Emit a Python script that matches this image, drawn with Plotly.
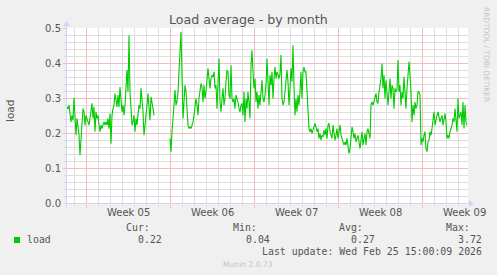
import pandas as pd
import plotly.graph_objects as go

# ---------------- data ----------------
TITLE = "Load average - by month"
Y_LABEL = "load"
SERIES_NAME = "load"
START = pd.Timestamp("2026-01-23 09:00")
END = pd.Timestamp("2026-02-25 19:00")
SAMPLE_STEP = "2h"
SEG1_START = pd.Timestamp("2026-01-23 09:00")
SEG2_START = pd.Timestamp("2026-01-31 23:00")

SEG1 = [
    0.276, 0.270, 0.281, 0.255, 0.233, 0.252, 0.238, 0.302, 0.243, 0.195, 0.243, 0.224,
    0.195, 0.138, 0.195, 0.243, 0.271, 0.262, 0.224, 0.252, 0.240, 0.233, 0.224,
    0.243, 0.271, 0.286, 0.243, 0.276, 0.205, 0.262, 0.243, 0.252, 0.224,
    0.205, 0.224, 0.214, 0.224, 0.233, 0.224, 0.233, 0.224, 0.243, 0.214,
    0.257, 0.171, 0.252, 0.271, 0.281, 0.314, 0.290, 0.276, 0.310, 0.276,
    0.333, 0.281, 0.262, 0.281, 0.252, 0.281, 0.333, 0.381, 0.319, 0.481,
    0.319, 0.243, 0.224, 0.233, 0.252, 0.205, 0.243, 0.224, 0.262, 0.281,
    0.271, 0.329, 0.300, 0.262, 0.195, 0.233, 0.243, 0.281, 0.314, 0.262,
    0.238, 0.305, 0.281, 0.271, 0.252,
]

SEG2 = [
    0.186, 0.148, 0.205, 0.262, 0.281, 0.324, 0.281, 0.290, 0.319, 0.376,
    0.433, 0.490, 0.367, 0.243, 0.290, 0.338, 0.319, 0.271, 0.224, 0.214,
    0.219, 0.214, 0.224, 0.233, 0.252, 0.271, 0.300, 0.281, 0.252, 0.300,
    0.329, 0.343, 0.333, 0.290, 0.338, 0.300, 0.319, 0.367, 0.386, 0.357,
    0.329, 0.357, 0.367, 0.362, 0.376, 0.329, 0.338, 0.271, 0.348, 0.414,
    0.290, 0.262, 0.300, 0.329, 0.281, 0.300, 0.348, 0.381, 0.376, 0.310,
    0.300, 0.395, 0.300, 0.290, 0.300, 0.271, 0.310, 0.300, 0.290, 0.271,
    0.262, 0.281, 0.286, 0.252, 0.319, 0.233, 0.300, 0.271, 0.319, 0.290,
    0.243, 0.395, 0.438, 0.376, 0.329, 0.357, 0.290, 0.319, 0.271, 0.310,
    0.281, 0.319, 0.352, 0.300, 0.290,
    0.310, 0.338, 0.414, 0.310, 0.281, 0.367, 0.338, 0.376, 0.300, 0.357,
    0.390, 0.357, 0.376, 0.367, 0.357, 0.371, 0.424, 0.300, 0.281, 0.290,
    0.319, 0.367, 0.381, 0.348, 0.281, 0.329, 0.386, 0.348, 0.452, 0.338,
    0.252, 0.300, 0.262, 0.310, 0.281, 0.319, 0.376, 0.300, 0.376, 0.390,
    0.376, 0.376, 0.329, 0.271, 0.214, 0.205, 0.214, 0.200, 0.210, 0.214,
    0.229, 0.219, 0.205, 0.214, 0.186, 0.200, 0.181, 0.195, 0.190, 0.210,
    0.195, 0.214, 0.186, 0.224, 0.229, 0.205, 0.190, 0.186, 0.224, 0.205,
    0.181, 0.195, 0.214, 0.186, 0.205, 0.224, 0.195, 0.186, 0.176, 0.167,
    0.176, 0.167, 0.186, 0.167, 0.143, 0.157, 0.195, 0.219, 0.205, 0.186,
    0.200, 0.176, 0.186, 0.195, 0.176, 0.157, 0.181, 0.205, 0.167, 0.186,
    0.200,
    0.167, 0.205, 0.214, 0.195, 0.186, 0.281, 0.290, 0.281, 0.295, 0.310,
    0.314, 0.290, 0.286, 0.319, 0.333, 0.357, 0.400, 0.329, 0.367, 0.300,
    0.352, 0.319, 0.281, 0.319, 0.357, 0.300, 0.338, 0.329, 0.271, 0.329,
    0.319, 0.324, 0.410, 0.319, 0.338, 0.281, 0.319, 0.300, 0.362, 0.319,
    0.271, 0.329, 0.367, 0.405, 0.367, 0.319, 0.233, 0.281, 0.252, 0.290,
    0.271, 0.281, 0.319, 0.319, 0.310, 0.167, 0.186, 0.176, 0.195, 0.205,
    0.157, 0.148, 0.176, 0.181, 0.205, 0.195, 0.214, 0.233, 0.262, 0.224,
    0.243, 0.252, 0.262, 0.248, 0.233, 0.243, 0.252, 0.224, 0.243, 0.257,
    0.233, 0.186, 0.195, 0.186, 0.205, 0.214, 0.224, 0.243, 0.233, 0.271,
    0.224, 0.205, 0.300, 0.243, 0.252, 0.262, 0.224, 0.290, 0.214, 0.281,
    0.233, 0.224,
]

WEEK_STARTS = ["2026-01-25", "2026-02-01", "2026-02-08", "2026-02-15", "2026-02-22"]
WEEK_LABELS = ["Week 05", "Week 06", "Week 07", "Week 08", "Week 09"]
Y_TICKS = [0.0, 0.1, 0.2, 0.3, 0.4, 0.5]
Y_TICK_LABELS = ["0.0", "0.1", "0.2", "0.3", "0.4", "0.5"]
Y_MINOR_STEP = 0.02
STAT_NAMES = ["Cur:", "Min:", "Avg:", "Max:"]
STAT_VALUES = ["0.22", "0.04", "0.27", "3.72"]
LAST_UPDATE = "Last update: Wed Feb 25 15:00:09 2026"
WATERMARK = "RRDTOOL / TOBI OETIKER"
FOOTER = "Munin 2.0.73"

# ---------------- layout ----------------
W, H = 497, 275
X0, XS = 67, 401          # plot area left edge / width in px
Y0, YS = 204, 176         # plot area bottom edge / height in px
PX_PER_UNIT = 350.0       # vertical px per load unit
ZERO_ROW = 203.5          # pixel centre of value 0

LINE_COLOR = "#00CC00"
MGRID = "#F2BDBD"
GRID = "#DEDEDE"
AXIS = "#CFD6F8"
FONT = "#555555"
SANS = "DejaVu Sans"
MONO = "DejaVu Sans Mono"


def px(x):
    return (x - X0) / XS


def py(y):
    return (Y0 - y) / YS


y_lo = (ZERO_ROW - Y0) / PX_PER_UNIT
y_hi = (ZERO_ROW - (Y0 - YS)) / PX_PER_UNIT

t1 = list(pd.date_range(SEG1_START, periods=len(SEG1), freq=SAMPLE_STEP))
t2 = list(pd.date_range(SEG2_START, periods=len(SEG2), freq=SAMPLE_STEP))
times = t1 + [t1[-1] + pd.Timedelta(SAMPLE_STEP)] + t2
loads = SEG1 + [None] + SEG2

fig = go.Figure(
    go.Scatter(
        x=times, y=loads, mode="lines", name=SERIES_NAME,
        line=dict(color=LINE_COLOR, width=1.1), connectgaps=False,
        hoverinfo="skip",
    )
)

fig.update_layout(
    width=W, height=H,
    margin=dict(l=X0, r=W - X0 - XS, t=Y0 - YS, b=H - Y0, pad=0),
    paper_bgcolor="#F0F0F0", plot_bgcolor="#FFFFFF",
    showlegend=False,
    font=dict(family=SANS, color=FONT, size=10),
)

fig.update_xaxes(
    type="date", range=[START, END],
    tickmode="array", tickvals=WEEK_STARTS, showticklabels=False,
    showgrid=True, gridcolor=MGRID, gridwidth=1,
    ticks="outside", ticklen=3, tickcolor=MGRID, tickwidth=1,
    showline=False, zeroline=False,
    minor=dict(
        tickmode="linear", tick0=WEEK_STARTS[0], dtick=86400000,
        showgrid=True, gridcolor=GRID, gridwidth=1,
        ticks="outside", ticklen=2, tickcolor=GRID,
    ),
)

fig.update_yaxes(
    range=[y_lo, y_hi],
    tickmode="array", tickvals=Y_TICKS, ticktext=Y_TICK_LABELS,
    tickfont=dict(family=SANS, size=10, color=FONT),
    showgrid=True, gridcolor=MGRID, gridwidth=1,
    ticks="outside", ticklen=3, tickcolor=MGRID, tickwidth=1,
    showline=False, zeroline=False,
    minor=dict(
        tickmode="linear", tick0=0, dtick=Y_MINOR_STEP,
        showgrid=True, gridcolor=GRID, gridwidth=1,
        ticks="outside", ticklen=2, tickcolor=GRID,
    ),
)

shapes = [
    # axes
    dict(type="line", xref="paper", yref="paper", x0=px(63), x1=px(470), y0=py(203.5), y1=py(203.5),
         line=dict(color=AXIS, width=1)),
    dict(type="line", xref="paper", yref="paper", x0=px(66.5), x1=px(66.5), y0=py(207), y1=py(24),
         line=dict(color=AXIS, width=1)),
    # arrows
    dict(type="path", xref="paper", yref="paper",
         path=f"M {px(469)},{py(200)} L {px(469)},{py(207)} L {px(474)},{py(203.5)} Z",
         fillcolor=AXIS, line=dict(width=0)),
    dict(type="path", xref="paper", yref="paper",
         path=f"M {px(63)},{py(26)} L {px(70)},{py(26)} L {px(66.5)},{py(21)} Z",
         fillcolor=AXIS, line=dict(width=0)),
    # legend swatch
    dict(type="rect", xref="paper", yref="paper", x0=px(14), x1=px(20), y0=py(243), y1=py(237),
         fillcolor=LINE_COLOR, line=dict(width=0)),
]
fig.update_layout(shapes=shapes)


def ann(text, x, y, size, family=SANS, color=FONT, xanchor="center", angle=0):
    return dict(text=text, x=px(x), y=py(y), xref="paper", yref="paper", showarrow=False,
                font=dict(family=family, size=size, color=color), xanchor=xanchor,
                yanchor="middle", textangle=angle, borderpad=0, borderwidth=0)


annotations = [
    ann(TITLE, 248, 19, 12.6),
    ann(Y_LABEL, 10, 111, 10.5, angle=-90),
    ann(WATERMARK, 487, 54, 7.4, color="#C4C4C4", angle=90),
    ann(FOOTER, 248, 264.5, 7.6, color="#C4C4C4"),
    ann(SERIES_NAME, 27, 239.5, 9.9, family=MONO, xanchor="left"),
    ann(LAST_UPDATE, 482, 251.5, 9.9, family=MONO, xanchor="right"),
]

HEAD_RIGHT = [150, 257, 363, 470]
VAL_RIGHT = [162, 270, 375, 482]
for name, xr in zip(STAT_NAMES, HEAD_RIGHT):
    annotations.append(ann(name, xr, 227.5, 9.9, family=MONO, xanchor="right"))
for val, xr in zip(STAT_VALUES, VAL_RIGHT):
    annotations.append(ann(val, xr, 239.5, 9.9, family=MONO, xanchor="right"))

for ws, lab in zip(WEEK_STARTS, WEEK_LABELS):
    mid = pd.Timestamp(ws) + pd.Timedelta(hours=84)
    annotations.append(dict(text=lab, x=mid, y=py(212.5), xref="x", yref="paper", showarrow=False,
                            font=dict(family=SANS, size=10, color=FONT), xanchor="center",
                            yanchor="middle", borderpad=0, borderwidth=0))

fig.update_layout(annotations=annotations)

fig.write_html("out.html")
